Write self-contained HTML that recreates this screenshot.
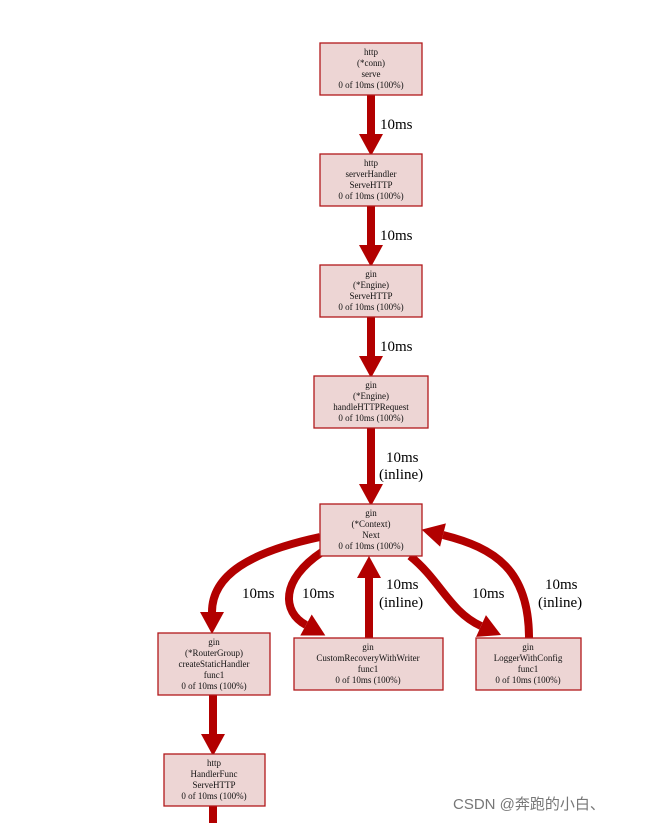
<!DOCTYPE html>
<html><head><meta charset="utf-8"><style>
body{margin:0;background:#fff;}
svg{display:block}
.b{fill:#edd5d4;stroke:#b2191b;stroke-width:1.3}
.t{font-family:"Liberation Serif",serif;font-size:9px;fill:#111;text-anchor:middle}
.l{font-family:"Liberation Serif",serif;font-size:15px;fill:#000}
.e{fill:none;stroke:#b20000;stroke-width:8}
</style></head><body>
<svg width="646" height="823" viewBox="0 0 646 823">
<defs><marker id="a" markerUnits="userSpaceOnUse" markerWidth="24" markerHeight="26" refX="0" refY="12" orient="auto" viewBox="0 -1 22 26"><path d="M0,0 L22,12 L0,24 z" fill="#b20000"/></marker></defs>
<path class="e" d="M371,95 V134" marker-end="url(#a)"/>
<path class="e" d="M371,206 V245" marker-end="url(#a)"/>
<path class="e" d="M371,317 V356" marker-end="url(#a)"/>
<path class="e" d="M371,428 V484" marker-end="url(#a)"/>
<path class="e" d="M320,537 C250,552 212,575 212,612" marker-end="url(#a)"/>
<path class="e" d="M322,552 C280,580 282,612 306,625" marker-end="url(#a)"/>
<path class="e" d="M369,638 V578" marker-end="url(#a)"/>
<path class="e" d="M410,556 C440,580 450,612 481,626" marker-end="url(#a)"/>
<path class="e" d="M529,638 C529,570 495,548 443,535" marker-end="url(#a)"/>
<path class="e" d="M213,695 V734" marker-end="url(#a)"/>
<path class="e" d="M213,806 V823"/>
<text class="l" x="380" y="129">10ms</text>
<text class="l" x="380" y="240">10ms</text>
<text class="l" x="380" y="351">10ms</text>
<text class="l" x="386" y="462">10ms</text>
<text class="l" x="379" y="479">(inline)</text>
<text class="l" x="242" y="598">10ms</text>
<text class="l" x="302" y="598">10ms</text>
<text class="l" x="386" y="589">10ms</text>
<text class="l" x="379" y="607">(inline)</text>
<text class="l" x="472" y="598">10ms</text>
<text class="l" x="545" y="589">10ms</text>
<text class="l" x="538" y="607">(inline)</text>
<rect class="b" x="320" y="43" width="102" height="52"/>
<text class="t" x="371" y="55">http</text><text class="t" x="371" y="66">(*conn)</text><text class="t" x="371" y="77">serve</text><text class="t" x="371" y="88">0 of 10ms (100%)</text>
<rect class="b" x="320" y="154" width="102" height="52"/>
<text class="t" x="371" y="166">http</text><text class="t" x="371" y="177">serverHandler</text><text class="t" x="371" y="188">ServeHTTP</text><text class="t" x="371" y="199">0 of 10ms (100%)</text>
<rect class="b" x="320" y="265" width="102" height="52"/>
<text class="t" x="371" y="277">gin</text><text class="t" x="371" y="288">(*Engine)</text><text class="t" x="371" y="299">ServeHTTP</text><text class="t" x="371" y="310">0 of 10ms (100%)</text>
<rect class="b" x="314" y="376" width="114" height="52"/>
<text class="t" x="371" y="388">gin</text><text class="t" x="371" y="399">(*Engine)</text><text class="t" x="371" y="410">handleHTTPRequest</text><text class="t" x="371" y="421">0 of 10ms (100%)</text>
<rect class="b" x="320" y="504" width="102" height="52"/>
<text class="t" x="371" y="516">gin</text><text class="t" x="371" y="527">(*Context)</text><text class="t" x="371" y="538">Next</text><text class="t" x="371" y="549">0 of 10ms (100%)</text>
<rect class="b" x="158" y="633" width="112" height="62"/>
<text class="t" x="214" y="645">gin</text><text class="t" x="214" y="656">(*RouterGroup)</text><text class="t" x="214" y="667">createStaticHandler</text><text class="t" x="214" y="678">func1</text><text class="t" x="214" y="689">0 of 10ms (100%)</text>
<rect class="b" x="294" y="638" width="149" height="52"/>
<text class="t" x="368" y="650">gin</text><text class="t" x="368" y="661">CustomRecoveryWithWriter</text><text class="t" x="368" y="672">func1</text><text class="t" x="368" y="683">0 of 10ms (100%)</text>
<rect class="b" x="476" y="638" width="105" height="52"/>
<text class="t" x="528" y="650">gin</text><text class="t" x="528" y="661">LoggerWithConfig</text><text class="t" x="528" y="672">func1</text><text class="t" x="528" y="683">0 of 10ms (100%)</text>
<rect class="b" x="164" y="754" width="101" height="52"/>
<text class="t" x="214" y="766">http</text><text class="t" x="214" y="777">HandlerFunc</text><text class="t" x="214" y="788">ServeHTTP</text><text class="t" x="214" y="799">0 of 10ms (100%)</text>
<text x="453" y="809" style="font-family:'Liberation Sans','Noto Sans CJK SC',sans-serif;font-size:15px;fill:#777">CSDN @奔跑的小白、</text>
</svg>
</body></html>
